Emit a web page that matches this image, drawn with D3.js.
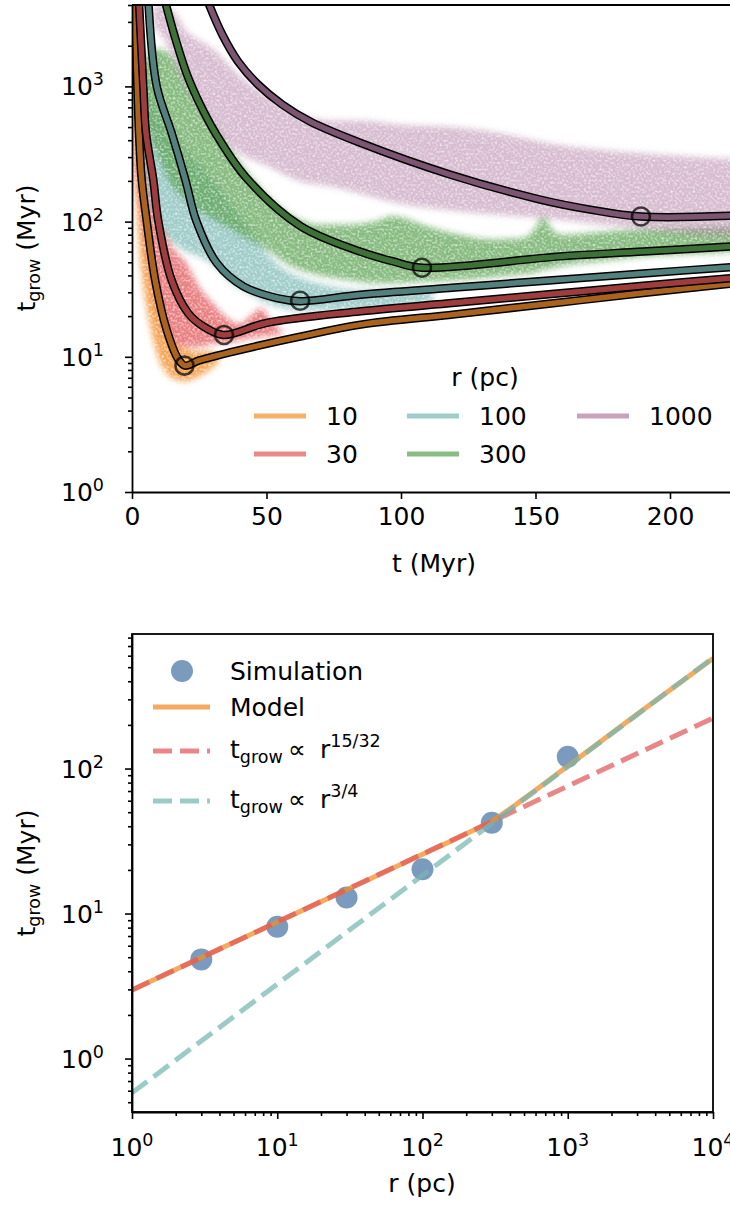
<!DOCTYPE html>
<html>
<head>
<meta charset="utf-8">
<script src="https://cdn.jsdelivr.net/npm/d3@7"></script>
<style>
  body { margin: 0; background: #fff; }
  svg { font-family: "DejaVu Sans", sans-serif; }
</style>
</head>
<body>
<svg id="fig" width="730" height="1206"></svg>
<script>
// ---------------- data: growth time vs time, per radius ----------------
const radii = [10, 30, 100, 300, 1000];
const baseColors = ["#f28e2b", "#e15759", "#76b7b2", "#59a14f", "#b07aa1"];

// model curves (t in Myr, t_grow in Myr)
const model10T = [1.05, 2.0, 2.6, 3.6, 5.5, 8.6, 12.9, 17.2, 19.7, 25, 44, 62.5, 85, 120, 155, 190, 226];
const model10V = [4200, 1000, 454, 205, 100, 37, 15.8, 9.6, 8.6, 9.4, 11.7, 14.1, 17.3, 20.6, 24.7, 29.6, 35.3];
const model30T = [2.6, 4.2, 5.2, 7.9, 9.8, 14.7, 20.9, 26.5, 34, 50, 85, 120, 155, 190, 226];
const model30V = [4200, 1000, 454, 205, 100, 37, 21, 16.8, 14.5, 17.8, 21.7, 25.1, 29, 33.5, 38.7];
const model100T = [6.1, 9.2, 14.7, 19.8, 24, 31.5, 41.4, 53.8, 62.5, 85, 120, 155, 190, 226];
const model100V = [4200, 1000, 454, 205, 100, 49.4, 33.2, 27.2, 25.8, 28.8, 32.5, 36.7, 41.3, 46.6];
const model300T = [12.3, 16.0, 20.4, 25.3, 30.9, 42.4, 62.5, 84.8, 97.1, 107.8, 159, 190, 226];
const model300V = [4260, 2300, 1230, 736, 456, 212, 93, 60, 50.7, 45.6, 55.3, 60, 66];
const model1000T = [28.3, 33.5, 39.4, 46.8, 55.8, 66.2, 84.8, 118.2, 151.7, 170.3, 189.2, 226];
const model1000V = [4190, 2430, 1530, 1035, 736, 550, 383, 223, 145.6, 122.7, 109, 111];

// minimum of each model curve
const minT = [19.5, 34.2, 62.5, 107.8, 189.2];
const minV = [8.6, 14.5, 26, 45.6, 109];

// extent of the simulated particle clouds (t, lower, upper)
const cloud10T  = [0.2, 1, 2, 3, 4.5, 6, 8, 10, 13, 16, 20, 24, 28, 32];
const cloud10Lo = [400, 200, 100, 55, 30, 20, 13, 9.5, 7.5, 6.8, 6.6, 7, 7.8, 9];
const cloud10Hi = [4000, 3000, 900, 350, 150, 80, 45, 28, 18, 13, 11.5, 11, 11, 10.5];

const cloud30T  = [1, 3, 5, 7, 9, 12, 15, 20, 25, 30, 36, 40, 44, 48, 52, 56];
const cloud30Lo = [250, 130, 70, 40, 25, 16, 13, 11.8, 11.8, 12.5, 12.7, 13.2, 13.7, 14, 14.3, 14.8];
const cloud30Hi = [3000, 1200, 450, 220, 130, 85, 65, 50, 33, 25, 19, 17.5, 20, 23, 18, 15.5];

const cloud100T  = [2, 5, 8, 12, 16, 20, 25, 30, 37, 44, 50, 56, 62, 75, 88, 100, 112];
const cloud100Lo = [400, 180, 110, 80, 68, 60, 55, 48, 35, 29, 25, 23, 22, 22, 22.5, 23.5, 26];
const cloud100Hi = [3000, 1500, 800, 550, 420, 330, 260, 200, 130, 85, 58, 45, 39, 33, 31, 31, 30];

const cloud300T  = [4, 7, 10, 15, 20, 25, 30, 40, 50, 60, 70, 80, 90, 97, 110, 122, 135, 146, 150, 153, 156, 160, 175, 190, 205, 226];
const cloud300Lo = [600, 400, 290, 180, 146, 120, 105, 80, 62, 46, 40, 37, 35, 35, 36, 37, 39, 41, 42, 44, 45, 47, 51, 55, 57, 60];
const cloud300Hi = [1500, 1800, 1900, 1650, 1180, 800, 540, 280, 160, 110, 95, 95, 100, 110, 92, 80, 74, 76, 90, 110, 88, 80, 84, 88, 90, 92];

const cloud1000T  = [8, 12, 16, 20, 25, 30, 40, 50, 62, 75, 85, 100, 120, 137, 155, 174, 190, 211, 226];
const cloud1000Lo = [2800, 2200, 1500, 1000, 700, 480, 320, 260, 200, 180, 160, 135, 120, 112, 105, 95, 88, 80, 78];
const cloud1000Hi = [4000, 4000, 3500, 2600, 2200, 1900, 1200, 850, 620, 560, 560, 520, 500, 450, 380, 340, 320, 300, 290];

// ---------------- data: growth time vs radius ----------------
const simR = [3, 10, 30, 100, 300, 1000];
const simT = [4.83, 8.11, 12.9, 20.2, 42.3, 120.6];
const modelR = [1, 3, 10, 30, 100, 200, 300, 500, 1000, 3000, 10000];
const modelTg = [2.97, 4.97, 8.73, 14.6, 25.6, 35.5, 43.5, 62, 104, 237, 575];
const shallowR = [1, 10000];       // t_grow ∝ r^(15/32)
const shallowTg = [2.97, 222.7];
const steepR = [1, 10000];         // t_grow ∝ r^(3/4)
const steepTg = [0.58, 580];

// tick labels
const topXTicks = [0, 50, 100, 150, 200];
const topYMajor = [1, 10, 100, 1000];
const topYExp = ["0", "1", "2", "3"];
const botXMajor = [1, 10, 100, 1000, 10000];
const botXExp = ["0", "1", "2", "3", "4"];
const botYMajor = [1, 10, 100];
const botYExp = ["0", "1", "2"];

// ---------------- drawing ----------------
const FS = 25, SMALL = 17.5;
const svg = d3.select("#fig");
const defs = svg.append("defs");

defs.append("clipPath").attr("id", "clipTop")
  .append("rect").attr("x", 132).attr("y", 5).attr("width", 598).attr("height", 487);
defs.append("clipPath").attr("id", "clipBot")
  .append("rect").attr("x", 132).attr("y", 634).attr("width", 581).attr("height", 478);

// grainy soft fill for particle clouds
const grain = defs.append("filter").attr("id", "grain")
  .attr("filterUnits", "userSpaceOnUse").attr("x", 0).attr("y", 0).attr("width", 730).attr("height", 600);
grain.append("feGaussianBlur").attr("in", "SourceGraphic").attr("stdDeviation", 3).attr("result", "soft");
grain.append("feTurbulence").attr("type", "fractalNoise").attr("baseFrequency", 0.45)
  .attr("numOctaves", 1).attr("seed", 7).attr("result", "noise");
grain.append("feColorMatrix").attr("in", "noise").attr("type", "matrix")
  .attr("values", "0 0 0 0 1  0 0 0 0 1  0 0 0 0 1  1.8 0 0 0 0.0").attr("result", "mask");
grain.append("feComposite").attr("in", "soft").attr("in2", "mask").attr("operator", "in");

function powLabel(sel, exp) {
  sel.append("tspan").text("10");
  sel.append("tspan").attr("font-size", SMALL).attr("dy", -10).text(exp);
}
function tgrowLabel(sel, rest) {
  sel.append("tspan").text("t");
  sel.append("tspan").attr("font-size", SMALL).attr("dy", 5).text("grow");
  sel.append("tspan").attr("dy", -5).text(rest);
}

// ===== top panel =====
const xT = d3.scaleLinear().domain([0, 226]).range([132, 132 + 226 * 2.69]);
const yT = d3.scaleLog().domain([1, 4000]).range([492, 5]);

const gTop = svg.append("g");
const plotTop = gTop.append("g").attr("clip-path", "url(#clipTop)");

const clouds = [
  [cloud10T, cloud10Lo, cloud10Hi, 0.8],
  [cloud30T, cloud30Lo, cloud30Hi, 0.75],
  [cloud100T, cloud100Lo, cloud100Hi, 0.7],
  [cloud300T, cloud300Lo, cloud300Hi, 0.72],
  [cloud1000T, cloud1000Lo, cloud1000Hi, 0.5]
];
const cloudLayer = plotTop.append("g").attr("filter", "url(#grain)");
clouds.forEach(([ts, lo, hi, op], i) => {
  const pts = ts.map((t, k) => ({ t, lo: lo[k], hi: hi[k] }));
  cloudLayer.append("path")
    .attr("d", d3.area().x(d => xT(d.t)).y0(d => yT(d.lo)).y1(d => yT(d.hi))
      .curve(d3.curveMonotoneX)(pts))
    .attr("fill", baseColors[i]).attr("fill-opacity", op);
});

const models = [[model10T, model10V], [model30T, model30V], [model100T, model100V],
                [model300T, model300V], [model1000T, model1000V]];
const lineT = d3.line().x(d => xT(d[0])).y(d => yT(d[1])).curve(d3.curveCatmullRom.alpha(0.5));
models.forEach(([ts, vs], i) => {
  const pts = ts.map((t, k) => [t, vs[k]]);
  plotTop.append("path").attr("d", lineT(pts)).attr("fill", "none")
    .attr("stroke", "#000").attr("stroke-width", 8.5);
  plotTop.append("path").attr("d", lineT(pts)).attr("fill", "none")
    .attr("stroke", d3.rgb(baseColors[i]).darker(1)).attr("stroke-width", 5.5);
});
minT.forEach((t, i) => {
  plotTop.append("circle").attr("cx", xT(t)).attr("cy", yT(minV[i])).attr("r", 9)
    .attr("fill", "none").attr("stroke", "#000").attr("stroke-opacity", 0.72).attr("stroke-width", 2.6);
});

// axes
const axB = gTop.append("g").attr("transform", "translate(0,492)")
  .call(d3.axisBottom(xT).tickValues(topXTicks).tickSize(7).tickSizeOuter(0).tickPadding(8));
axB.selectAll("text").attr("font-size", FS).attr("font-family", "DejaVu Sans").attr("fill", "#000");
gTop.append("g").attr("transform", "translate(132,0)")
  .call(d3.axisLeft(yT).tickValues(topYMajor).tickSize(7).tickSizeOuter(0).tickFormat(""));
gTop.append("g").attr("transform", "translate(132,0)")
  .call(d3.axisLeft(yT).tickValues(yT.ticks().filter(v => !topYMajor.includes(v))).tickSize(4).tickFormat(""))
  .select(".domain").remove();
gTop.append("line").attr("x1", 132).attr("x2", 730).attr("y1", 5).attr("y2", 5)
  .attr("stroke", "#000").attr("stroke-width", 1.8);
topYMajor.forEach((v, i) => {
  gTop.append("text").attr("x", 104).attr("y", yT(v) + 9).attr("text-anchor", "end")
    .attr("font-size", FS).call(powLabel, topYExp[i]);
});
gTop.append("text").attr("x", 434).attr("y", 572).attr("text-anchor", "middle")
  .attr("font-size", FS).text("t (Myr)");
gTop.append("text").attr("transform", "translate(35,248) rotate(-90)").attr("text-anchor", "middle")
  .attr("font-size", FS).call(tgrowLabel, " (Myr)");

// legend
const legTop = gTop.append("g");
legTop.append("text").attr("x", 485).attr("y", 386).attr("text-anchor", "middle")
  .attr("font-size", FS).text("r (pc)");
const legCols = [254, 407, 577];
radii.forEach((r, i) => {
  const col = Math.floor(i / 2), row = i % 2;
  const x0 = legCols[col], yy = 416 + row * 38;
  legTop.append("line").attr("x1", x0).attr("x2", x0 + 52).attr("y1", yy).attr("y2", yy)
    .attr("stroke", baseColors[i]).attr("stroke-opacity", 0.7).attr("stroke-width", 5);
  legTop.append("text").attr("x", x0 + 72).attr("y", yy + 9).attr("font-size", FS).text(r);
});

// ===== bottom panel =====
const xB = d3.scaleLog().domain([1, 1e4]).range([132, 713]);
const yB = d3.scaleLog().domain([0.428, 847]).range([1112, 634]);

const gBot = svg.append("g");
const plotBot = gBot.append("g").attr("clip-path", "url(#clipBot)");

const blue = "#4e79a7", orange = "#f28e2b", red = "#e15759", teal = "#76b7b2";
simR.forEach((r, i) => {
  plotBot.append("circle").attr("cx", xB(r)).attr("cy", yB(simT[i])).attr("r", 11)
    .attr("fill", blue).attr("fill-opacity", 0.75);
});
plotBot.append("path").attr("d", d3.line().x(d => xB(d[0])).y(d => yB(d[1])).curve(d3.curveMonotoneX)(modelR.map((r, k) => [r, modelTg[k]])))
  .attr("fill", "none").attr("stroke", orange).attr("stroke-opacity", 0.75).attr("stroke-width", 5);
plotBot.append("path").attr("d", d3.line().x(d => xB(d[0])).y(d => yB(d[1]))(shallowR.map((r, k) => [r, shallowTg[k]])))
  .attr("fill", "none").attr("stroke", red).attr("stroke-opacity", 0.72).attr("stroke-width", 5)
  .attr("stroke-dasharray", "19,8");
plotBot.append("path").attr("d", d3.line().x(d => xB(d[0])).y(d => yB(d[1]))(steepR.map((r, k) => [r, steepTg[k]])))
  .attr("fill", "none").attr("stroke", teal).attr("stroke-opacity", 0.72).attr("stroke-width", 5)
  .attr("stroke-dasharray", "19,8");

// frame
gBot.append("rect").attr("x", 132).attr("y", 634).attr("width", 581).attr("height", 478)
  .attr("fill", "none").attr("stroke", "#000").attr("stroke-width", 1.8);
gBot.append("g").attr("transform", "translate(0,1112)")
  .call(d3.axisBottom(xB).tickValues(botXMajor).tickSize(7).tickSizeOuter(0).tickFormat(""));
gBot.append("g").attr("transform", "translate(0,1112)")
  .call(d3.axisBottom(xB).tickValues(xB.ticks().filter(v => !botXMajor.includes(v))).tickSize(4).tickFormat(""))
  .select(".domain").remove();
gBot.append("g").attr("transform", "translate(132,0)")
  .call(d3.axisLeft(yB).tickValues(botYMajor).tickSize(7).tickSizeOuter(0).tickFormat(""));
gBot.append("g").attr("transform", "translate(132,0)")
  .call(d3.axisLeft(yB).tickValues(yB.ticks().filter(v => !botYMajor.includes(v))).tickSize(4).tickFormat(""))
  .select(".domain").remove();
botXMajor.forEach((v, i) => {
  gBot.append("text").attr("x", xB(v)).attr("y", 1156).attr("text-anchor", "middle")
    .attr("font-size", FS).call(powLabel, botXExp[i]);
});
botYMajor.forEach((v, i) => {
  gBot.append("text").attr("x", 104).attr("y", yB(v) + 9).attr("text-anchor", "end")
    .attr("font-size", FS).call(powLabel, botYExp[i]);
});
gBot.append("text").attr("x", 422).attr("y", 1192).attr("text-anchor", "middle")
  .attr("font-size", FS).text("r (pc)");
gBot.append("text").attr("transform", "translate(35,873) rotate(-90)").attr("text-anchor", "middle")
  .attr("font-size", FS).call(tgrowLabel, " (Myr)");

// legend
const legB = gBot.append("g");
legB.append("circle").attr("cx", 182).attr("cy", 671).attr("r", 11).attr("fill", blue).attr("fill-opacity", 0.75);
legB.append("text").attr("x", 230).attr("y", 680).attr("font-size", FS).text("Simulation");
legB.append("line").attr("x1", 153).attr("x2", 210).attr("y1", 707).attr("y2", 707)
  .attr("stroke", orange).attr("stroke-opacity", 0.75).attr("stroke-width", 5);
legB.append("text").attr("x", 230).attr("y", 716).attr("font-size", FS).text("Model");
[[red, 751, "15/32"], [teal, 801, "3/4"]].forEach(([c, yy, p]) => {
  legB.append("line").attr("x1", 153).attr("x2", 210).attr("y1", yy).attr("y2", yy)
    .attr("stroke", c).attr("stroke-opacity", 0.72).attr("stroke-width", 5).attr("stroke-dasharray", "19,8");
  const t = legB.append("text").attr("x", 230).attr("y", yy + 7).attr("font-size", FS);
  t.append("tspan").text("t");
  t.append("tspan").attr("font-size", SMALL).attr("dy", 5).text("grow");
  t.append("tspan").attr("dy", -5).attr("x", 288).text("∝");
  t.append("tspan").attr("x", 320).text("r");
  t.append("tspan").attr("font-size", SMALL).attr("dy", -11).text(p);
});

svg.selectAll(".tick line").attr("stroke-width", 1.6);
svg.selectAll(".domain").attr("stroke-width", 1.8);
</script>
</body>
</html>
